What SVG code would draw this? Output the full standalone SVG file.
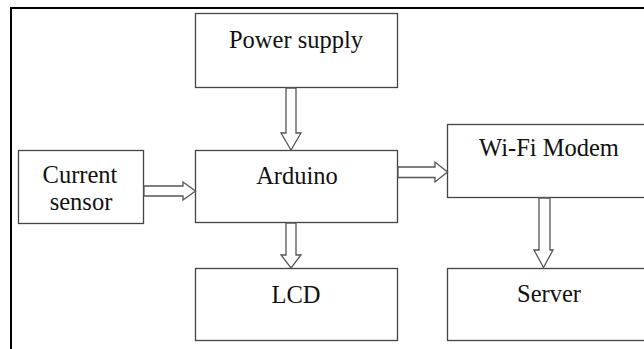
<svg xmlns="http://www.w3.org/2000/svg" width="644" height="349" viewBox="0 0 644 349">
<style>
.box{fill:#fff;stroke:#444;stroke-width:1.3}
.arr{fill:#fff;stroke:#555;stroke-width:1.3;stroke-linejoin:miter}
text{font-family:'Liberation Serif','Times New Roman','DejaVu Serif',serif;font-size:24.5px;fill:#111;text-anchor:middle}
</style>
<rect width="644" height="349" fill="#fff"/>
<path d="M11,349 V8 H644" fill="none" stroke="#000" stroke-width="2"/>
<g id="power-supply"><rect class="box" x="195.5" y="13.5" width="202" height="74"/><text x="296" y="48" font-family="Liberation Serif, serif">Power supply</text></g>
<g id="arduino"><rect class="box" x="195.5" y="150.5" width="202" height="72"/><text x="297" y="184" font-family="Liberation Serif, serif">Arduino</text></g>
<g id="current-sensor"><rect class="box" x="18.5" y="150.5" width="125" height="73"/><text x="80" y="183" font-family="Liberation Serif, serif">Current</text><text x="81" y="210" font-family="Liberation Serif, serif">sensor</text></g>
<g id="wifi-modem"><rect class="box" x="447.5" y="124.5" width="204" height="73"/><text x="549" y="156" font-family="Liberation Serif, serif">Wi-Fi Modem</text></g>
<g id="lcd"><rect class="box" x="195.5" y="268.5" width="202" height="72"/><text x="296" y="303" font-family="Liberation Serif, serif">LCD</text></g>
<g id="server"><rect class="box" x="447.5" y="268.5" width="204" height="72"/><text x="549" y="302" font-family="Liberation Serif, serif">Server</text></g>
<g id="connectors">
<polygon class="arr" points="286,88 296,88 296,133 301,133 291,150 281,133 286,133"/>
<polygon class="arr" points="286,223 296,223 296,255 301,255 291,268 281,255 286,255"/>
<polygon class="arr" points="144,186 183,186 183,182 195.5,191 183,200 183,196 144,196"/>
<polygon class="arr" points="398,167 435,167 435,162 447.5,172 435,182 435,177.5 398,177.5"/>
<polygon class="arr" points="539,198 550,198 550,250 553,250 543.5,267.5 534,250 539,250"/>
</g>
</svg>
